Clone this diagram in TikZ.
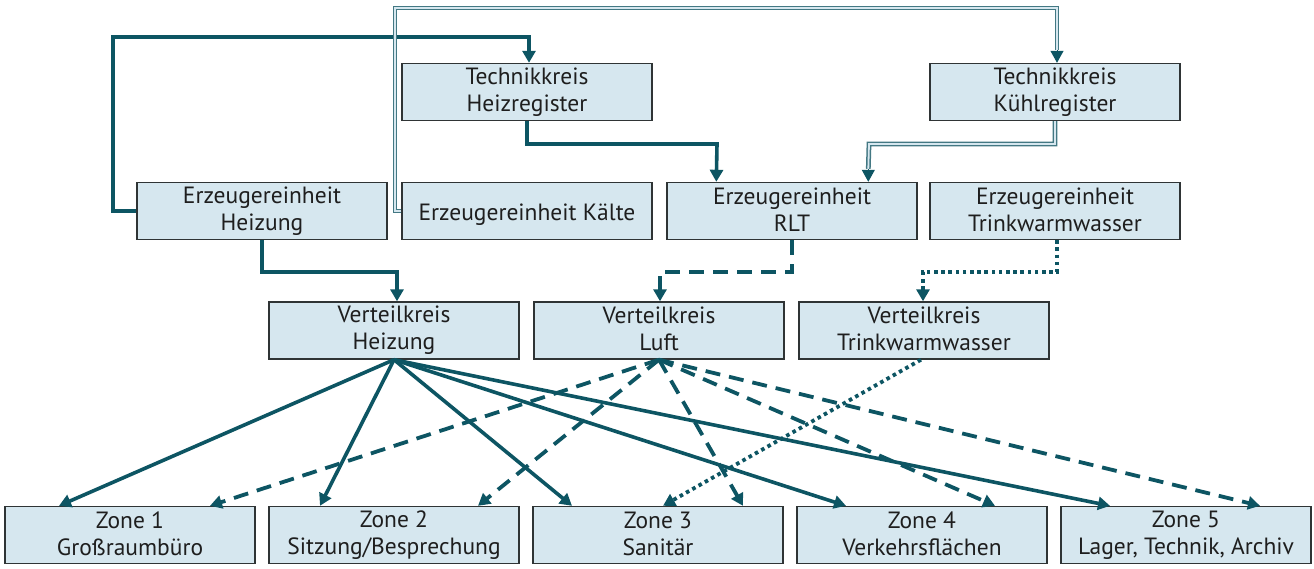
\documentclass[tikz,border=0pt]{standalone}
\usepackage{fontspec}
\setmainfont{PT Sans}
\usetikzlibrary{arrows.meta,calc}
\definecolor{boxfill}{HTML}{D6E7EF}
\definecolor{lineteal}{HTML}{0D5563}
\definecolor{dblteal}{HTML}{437883}
\definecolor{boxline}{HTML}{2F3435}
\definecolor{txt}{HTML}{1E1E1E}
\tikzset{
  box/.style={draw=boxline, line width=1.4pt, fill=boxfill, minimum width=250pt, minimum height=57pt,
    inner sep=0pt, align=center, text=txt, font=\fontsize{23.5}{27}\selectfont,
    execute at begin node={\rule{0pt}{24pt}}, execute at end node={\rule[-3pt]{0pt}{3pt}}},
  tip/.style={-{Triangle[width=13pt,length=12pt]}},
  solidline/.style={draw=lineteal, line width=3.6pt, tip},
  dashline/.style={draw=lineteal, line width=3.8pt, dash pattern=on 15pt off 9pt, tip},
  dotline/.style={draw=lineteal, line width=3.8pt, dash pattern=on 3.6pt off 3.6pt, tip},
  dblline/.style={draw=dblteal, line width=1.5pt, double=boxfill, double distance=1.8pt},
  dbltip/.style={draw=lineteal, line width=1pt, -{Triangle[width=13pt,length=12pt]}},
}
\begin{document}
\begin{tikzpicture}[x=1pt,y=-1pt]
\useasboundingbox (0,0) rectangle (1314,568);
% boxes
\node[box] (th) at (527,92) {Technikkreis\\Heizregister};
\node[box] (tk) at (1055,92) {Technikkreis\\Kühlregister};
\node[box] (eh) at (262,211) {Erzeugereinheit\\Heizung};
\node[box] (ek) at (527,211) {Erzeugereinheit Kälte};
\node[box] (er) at (792,211) {Erzeugereinheit\\RLT};
\node[box] (et) at (1055,211) {Erzeugereinheit\\Trinkwarmwasser};
\node[box] (vh) at (394,330.5) {Verteilkreis\\Heizung};
\node[box] (vl) at (659,330.5) {Verteilkreis\\Luft};
\node[box] (vt) at (924,330.5) {Verteilkreis\\Trinkwarmwasser};
\node[box] (z1) at (130,535) {Zone 1\\Großraumbüro};
\node[box] (z2) at (394,535) {Zone 2\\Sitzung/Besprechung};
\node[box] (z3) at (658,535) {Zone 3\\Sanitär};
\node[box] (z4) at (922,535) {Zone 4\\Verkehrsflächen};
\node[box] (z5) at (1186,535) {Zone 5\\Lager, Technik, Archiv};
% helper coordinates
\coordinate (thin) at ($(th.north)+(2,0)$);
\coordinate (tkin) at ($(tk.north)+(2,0)$);
\coordinate (tkabove) at ($(tk.north)+(2,-13)$);
\coordinate (erinA) at ($(er.north west)+(50,0)$);
\coordinate (erinB) at ($(er.north west)+(202,0)$);
\coordinate (erinBabove) at ($(er.north west)+(202,-13)$);
\coordinate (vhin) at ($(vh.north)+(3,0)$);
\coordinate (vlin) at ($(vl.north)+(1,0)$);
\coordinate (vtin) at ($(vt.north)+(-1,0)$);
% top connectors
\draw[solidline] (eh.west) -| (113,37) -| (thin);
\draw[dblline] (ek.west) -| (395,8) -| (tkabove);
\draw[dbltip] (tkabove) -- (tkin);
\draw[solidline] (th.south) |- (717,144) -- (erinA);
\draw[dblline] (tk.south) |- (869,144) -- (erinBabove);
\draw[dbltip] (erinBabove) -- (erinB);
\draw[solidline] (eh.south) |- (397,272) -- (vhin);
\draw[dashline] (er.south) |- (660,272) -- (vlin);
\draw[dotline] ($(et.south)+(2,0)$) |- (923,272) -- (vtin);
% distribution: heating
\draw[solidline] (vh.south) -- ($(z1.north)+(-71,0)$);
\draw[solidline] (vh.south) -- ($(z2.north)+(-74,0)$);
\draw[solidline] (vh.south) -- ($(z3.north)+(-86,0)$);
\draw[solidline] (vh.south) -- ($(z4.north)+(-76,0)$);
\draw[solidline] (vh.south) -- ($(z5.north)+(-76,0)$);
% distribution: air
\draw[dashline] (vl.south) -- ($(z1.north)+(80,0)$);
\draw[dashline] (vl.south) -- ($(z2.north)+(84,0)$);
\draw[dashline] (vl.south) -- ($(z3.north)+(85,0)$);
\draw[dashline] (vl.south) -- ($(z4.north)+(73,0)$);
\draw[dashline] (vl.south) -- ($(z5.north)+(74,0)$);
% distribution: hot water
\draw[dotline] ($(vt.south)+(-3,0)$) -- ($(z3.north)+(5,0)$);
\end{tikzpicture}
\end{document}
